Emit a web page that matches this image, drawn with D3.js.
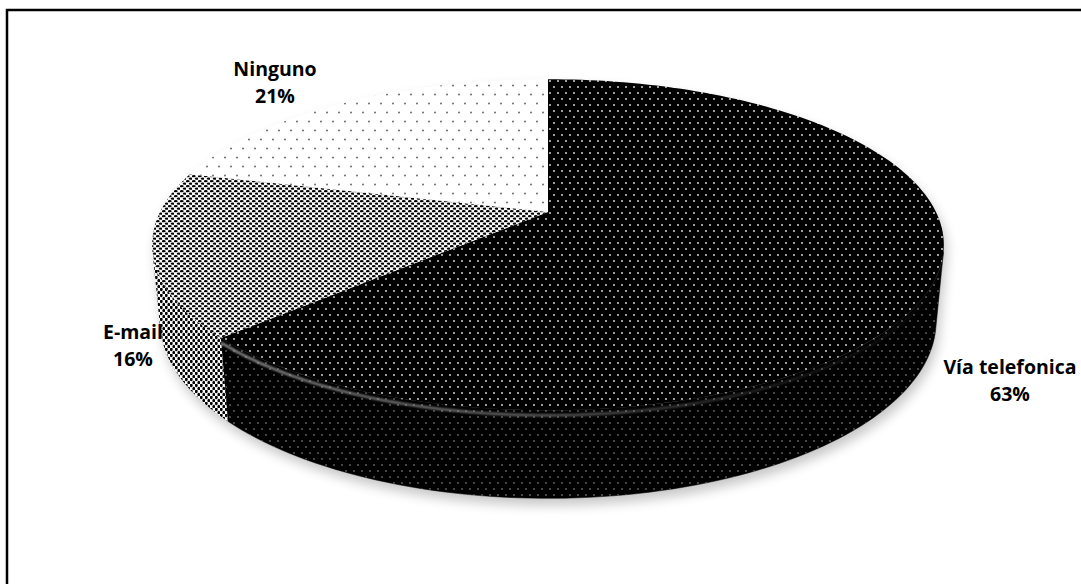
<!DOCTYPE html>
<html>
<head>
<meta charset="utf-8">
<script src="https://cdn.jsdelivr.net/npm/d3@7"></script>
<style>
html,body{margin:0;padding:0;background:#fff;overflow:hidden;}
svg{display:block;}
</style>
</head>
<body>
<svg id="chart" width="1081" height="584"></svg>
<script>
// ---- data ----
const categories = ["Vía telefonica", "E-mail", "Ninguno"];
const values = [63, 16, 21];
const percentLabels = ["63%", "16%", "21%"];

// ---- layout ----
const W = 1081, H = 584;
const cx = 548, cy = 212;        // projected pie centre
const Rs = 388;                   // screen radius scale
const phi = 24.2 * Math.PI / 180; // tilt
const kPersp = 0.217;             // radius / camera distance
const depth = 0.215;              // thickness in radius units
const sinP = Math.sin(phi), cosP = Math.cos(phi);

function proj(theta, Y, r = 1) {
  const X = r * Math.sin(theta), Z = -r * Math.cos(theta);
  const dd = 1 - kPersp * (Y * sinP + Z * cosP);
  const yc = Y * cosP - Z * sinP;
  return [cx + Rs * X / dd, cy - Rs * yc / dd];
}

const svg = d3.select("#chart");
const defs = svg.append("defs");

// patterns
const pPhone = defs.append("pattern").attr("id", "pPhone").attr("patternUnits", "userSpaceOnUse")
  .attr("width", 8).attr("height", 12);
pPhone.append("rect").attr("width", 8).attr("height", 12).attr("fill", "#000");
pPhone.append("circle").attr("cx", 2).attr("cy", 3).attr("r", 0.9).attr("fill", "#e8e8e8");
pPhone.append("circle").attr("cx", 6).attr("cy", 9).attr("r", 0.9).attr("fill", "#e8e8e8");

const pPhoneSide = defs.append("pattern").attr("id", "pPhoneSide").attr("patternUnits", "userSpaceOnUse")
  .attr("width", 8).attr("height", 12);
pPhoneSide.append("rect").attr("width", 8).attr("height", 12).attr("fill", "#000");
pPhoneSide.append("circle").attr("cx", 2).attr("cy", 3).attr("r", 0.75).attr("fill", "#aaa");
pPhoneSide.append("circle").attr("cx", 6).attr("cy", 9).attr("r", 0.75).attr("fill", "#aaa");

const pNone = defs.append("pattern").attr("id", "pNone").attr("patternUnits", "userSpaceOnUse")
  .attr("width", 12).attr("height", 18);
pNone.append("rect").attr("width", 12).attr("height", 18).attr("fill", "#fff");
pNone.append("circle").attr("cx", 3).attr("cy", 4.5).attr("r", 0.95).attr("fill", "#666");
pNone.append("circle").attr("cx", 9).attr("cy", 13.5).attr("r", 0.95).attr("fill", "#666");

const pMail = defs.append("pattern").attr("id", "pMail").attr("patternUnits", "userSpaceOnUse")
  .attr("width", 6).attr("height", 5);
pMail.append("rect").attr("width", 6).attr("height", 5).attr("fill", "#fff");
pMail.append("ellipse").attr("cx", 1.7).attr("cy", 1.2).attr("rx", 2.0).attr("ry", 1.15).attr("fill", "#000");
pMail.append("ellipse").attr("cx", 4.7).attr("cy", 3.7).attr("rx", 2.0).attr("ry", 1.15).attr("fill", "#000");

const pMailSide = defs.append("pattern").attr("id", "pMailSide").attr("patternUnits", "userSpaceOnUse")
  .attr("width", 5).attr("height", 6);
pMailSide.append("rect").attr("width", 5).attr("height", 6).attr("fill", "#fff");
pMailSide.append("ellipse").attr("cx", 1.3).attr("cy", 1.5).attr("rx", 1.4).attr("ry", 1.8).attr("fill", "#000");
pMailSide.append("ellipse").attr("cx", 3.8).attr("cy", 4.5).attr("rx", 1.4).attr("ry", 1.8).attr("fill", "#000");

const topFill = ["url(#pPhone)", "url(#pMail)", "url(#pNone)"];
const sideFill = ["url(#pPhoneSide)", "url(#pMailSide)", "url(#pNone)"];

// shadow filter
const f = defs.append("filter").attr("id", "shadow").attr("x", "-20%").attr("y", "-20%").attr("width", "140%").attr("height", "140%");
f.append("feGaussianBlur").attr("stdDeviation", 6);
const fb = defs.append("filter").attr("id", "soft").attr("x", "-10%").attr("y", "-10%").attr("width", "120%").attr("height", "120%");
fb.append("feGaussianBlur").attr("stdDeviation", 0.9);

// frame
svg.append("rect").attr("x", 7).attr("y", 10).attr("width", W + 20).attr("height", H + 20)
  .attr("fill", "#fff").attr("stroke", "#000").attr("stroke-width", 2.5);

// pie layout
const pie = d3.pie().sort(null).startAngle(0).endAngle(2 * Math.PI);
const arcs = pie(values);

const N = 240;
function arcPoints(a0, a1, Y) {
  const n = Math.max(2, Math.ceil(Math.abs(a1 - a0) / (2 * Math.PI) * N));
  return d3.range(n + 1).map(i => proj(a0 + (a1 - a0) * i / n, Y));
}
const line = d3.line();

// silhouette angles
const thS = Math.acos(-kPersp / cosP);
const th1 = thS, th2 = 2 * Math.PI - thS;

// shadow (whole pie silhouette)
const outline = arcPoints(th2 - 2 * Math.PI, th1, 0).concat(arcPoints(th1, th2, -depth));
svg.append("path").attr("d", line(outline) + "Z")
  .attr("transform", "translate(3,7)")
  .attr("fill", "#000").attr("opacity", 0.22).attr("filter", "url(#shadow)");

// side walls
const gSide = svg.append("g");
arcs.forEach((d, i) => {
  const s = Math.max(d.startAngle, th1), e = Math.min(d.endAngle, th2);
  if (e <= s) return;
  const pts = arcPoints(s, e, 0).concat(arcPoints(e, s, -depth));
  gSide.append("path").attr("d", line(pts) + "Z").attr("fill", sideFill[i])
    .attr("stroke", i === 0 ? "#000" : "none").attr("stroke-width", 0.5);
});

// top faces
const gTop = svg.append("g");
arcs.forEach((d, i) => {
  const pts = [[cx, cy]].concat(arcPoints(d.startAngle, d.endAngle, 0));
  gTop.append("path").attr("d", line(pts) + "Z").attr("fill", topFill[i]);
});

// bevel highlight along front edge of first slice
const hg = defs.append("linearGradient").attr("id", "hl").attr("gradientUnits", "userSpaceOnUse")
  .attr("x1", 220).attr("y1", 0).attr("x2", 940).attr("y2", 0);
hg.append("stop").attr("offset", 0).attr("stop-color", "#aaa").attr("stop-opacity", 0.95);
hg.append("stop").attr("offset", 0.45).attr("stop-color", "#999").attr("stop-opacity", 0.7);
hg.append("stop").attr("offset", 0.8).attr("stop-color", "#777").attr("stop-opacity", 0.25);
hg.append("stop").attr("offset", 1).attr("stop-color", "#777").attr("stop-opacity", 0.05);
{
  const d0 = arcs[0];
  const s = Math.max(d0.startAngle, th1), e = Math.min(d0.endAngle, th2);
  const pts = d3.range(0, 201).map(i => proj(s + (e - s) * i / 200, -0.012));
  svg.append("path").attr("d", line(pts)).attr("fill", "none")
    .attr("stroke", "url(#hl)").attr("stroke-width", 2.2).attr("filter", "url(#soft)");
}

// labels
const labelPos = [[1010, 374], [133, 339], [275, 76]];
const gLab = svg.append("g").attr("font-family", "'Open Sans', sans-serif")
  .attr("font-weight", "bold").attr("font-size", 19.5).attr("fill", "#000").attr("text-anchor", "middle");
categories.forEach((c, i) => {
  const t = gLab.append("text").attr("x", labelPos[i][0]).attr("y", labelPos[i][1]);
  t.append("tspan").attr("x", labelPos[i][0]).text(c);
  t.append("tspan").attr("x", labelPos[i][0]).attr("dy", 27).text(percentLabels[i]);
});
</script>
</body>
</html>
